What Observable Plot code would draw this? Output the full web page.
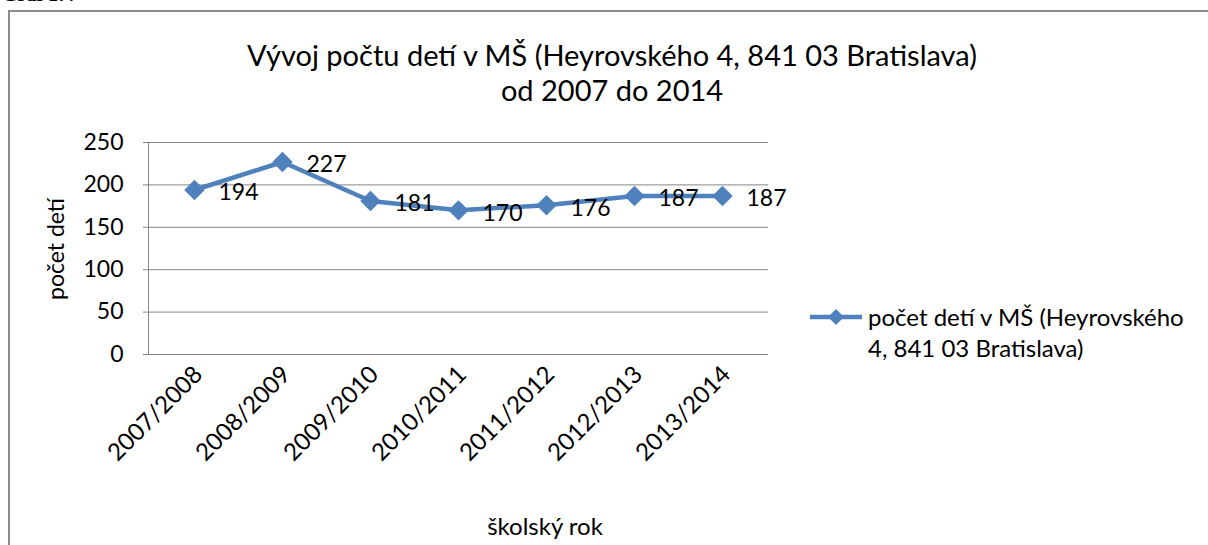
<!DOCTYPE html>
<html>
<head>
<meta charset="utf-8">
<script src="https://cdn.jsdelivr.net/npm/d3@7"></script>
<script src="https://cdn.jsdelivr.net/npm/@observablehq/plot@0.6"></script>
<style>
  html, body { margin: 0; padding: 0; background: #fff; }
  body { width: 1208px; height: 545px; overflow: hidden; position: relative; font-family: Lato, "Open Sans", sans-serif; color: #000; }
  #pre { position: absolute; left: 2px; top: -17px; font: bold 20px "Liberation Serif", serif; }
  #frame { position: absolute; left: 8px; top: 10px; width: 1220px; height: 560px; border: 2px solid #8c8c8c; box-sizing: border-box; }
  #chart { position: absolute; left: 0; top: 0; }
  .title { position: absolute; left: 0; width: 1224px; text-align: center; font-size: 29px; line-height: 36px; white-space: nowrap; }
  #ylab { position: absolute; left: 55px; top: 249px; transform: translate(-50%, -50%) rotate(-90deg); font-size: 23px; white-space: nowrap; }
  #xlab { position: absolute; left: 545px; top: 511px; transform: translateX(-50%); font-size: 24px; white-space: nowrap; }
  #legend { position: absolute; left: 808px; top: 301px; font-size: 24px; line-height: 31px; }
  #legend svg { position: absolute; left: 0; top: 4px; }
  #legend div { margin-left: 60px; white-space: nowrap; }
</style>
</head>
<body>
<div id="pre">Graf 17:</div>
<div id="frame"></div>
<div id="chart"></div>
<div class="title" style="top:37px">Vývoj počtu detí v MŠ (Heyrovského 4, 841 03 Bratislava)</div>
<div class="title" style="top:72px">od 2007 do 2014</div>
<div id="ylab">počet detí</div>
<div id="xlab">školský rok</div>
<div id="legend">
  <svg width="60" height="24"><line x1="2" y1="12" x2="54" y2="12" stroke="#4F81BD" stroke-width="4.5"/><path d="M28 4 L36 12 L28 20 L20 12 Z" fill="#4F81BD"/></svg>
  <div>počet detí v MŠ (Heyrovského</div>
  <div>4, 841 03 Bratislava)</div>
</div>
<script>
const years = ["2007/2008", "2008/2009", "2009/2010", "2010/2011", "2011/2012", "2012/2013", "2013/2014"];
const counts = [194, 227, 181, 170, 176, 187, 187];
const yTicks = [0, 50, 100, 150, 200, 250];
const seriesName = "počet detí v MŠ (Heyrovského 4, 841 03 Bratislava)";

const data = years.map((y, i) => ({year: y, count: counts[i]}));
const blue = "#4F81BD";
const grid = "#868686";

const chart = Plot.plot({
  width: 1208,
  height: 545,
  marginLeft: 148,
  marginRight: 440,
  marginTop: 142,
  marginBottom: 191,
  style: {fontFamily: "Lato, 'Open Sans', sans-serif", fontSize: "23px", color: "#000", background: "transparent"},
  x: {type: "point", domain: years, padding: 0.5},
  y: {domain: [0, 250]},
  marks: [
    Plot.ruleY(yTicks, {stroke: grid, strokeWidth: 1, strokeOpacity: 1}),
    Plot.frame({anchor: "left", stroke: grid, strokeOpacity: 1}),
    Plot.axisY({ticks: yTicks, tickSize: 5, tickPadding: 20, label: null, stroke: grid, fontSize: 23}),
    Plot.axisX({tickRotate: -45, tickSize: 0, tickPadding: 16, label: null, fontSize: 24, dx: 4}),
    Plot.line(data, {x: "year", y: "count", stroke: blue, strokeWidth: 4.5}),
    Plot.dot(data, {x: "year", y: "count", symbol: "diamond2", r: 9.2, fill: blue, stroke: "none"}),
    Plot.text(data, {x: "year", y: "count", text: d => String(d.count), dx: 24, dy: 3, textAnchor: "start", fontSize: 23, fill: "#000"})
  ]
});
document.getElementById("chart").appendChild(chart);
</script>
</body>
</html>
